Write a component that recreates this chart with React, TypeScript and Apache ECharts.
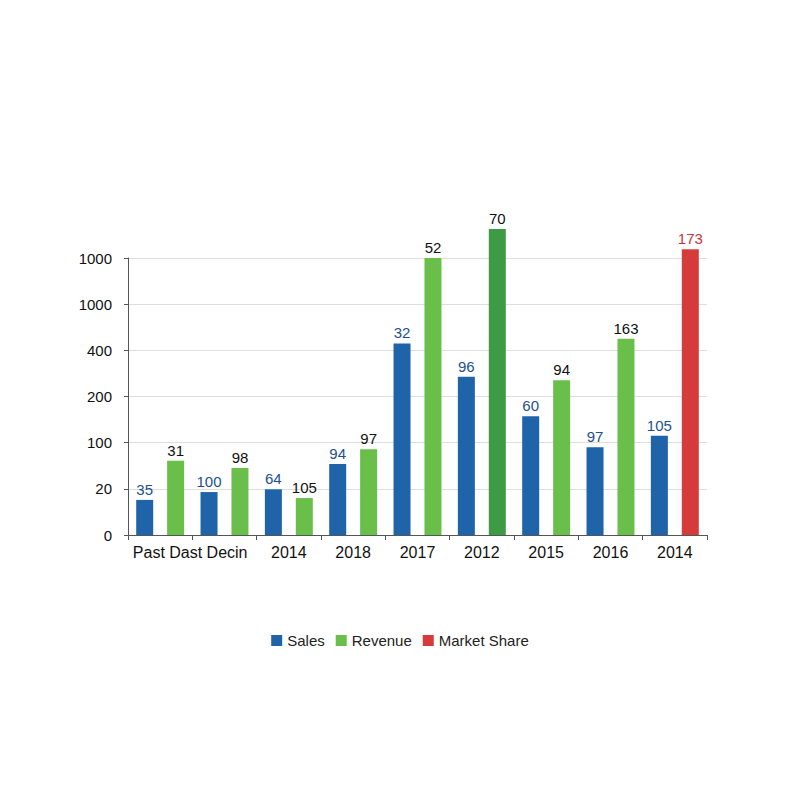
import React, { useEffect, useRef } from "react";
import * as echarts from "echarts";

const categories = ["Past Dast Decin", "", "2014", "2018", "2017", "2012", "2015", "2016", "2014"];
const yTickLabels = ["0", "20", "100", "200", "400", "1000", "1000"];
const salesHeights = [0.76, 0.93, 0.99, 1.54, 4.15, 3.43, 2.57, 1.9, 2.15];
const salesLabels = ["35", "100", "64", "94", "32", "96", "60", "97", "105"];
const revenueHeights = [1.61, 1.45, 0.8, 1.86, 6.0, 6.63, 3.35, 4.25, null];
const revenueLabels = ["31", "98", "105", "97", "52", "70", "94", "163", ""];
const marketHeights = [null, null, null, null, null, null, null, null, 6.19];
const marketLabels = ["", "", "", "", "", "", "", "", "173"];

const BLUE = "#1f63a8";
const GREEN = "#6abf4b";
const DARK_GREEN = "#3d9b45";
const RED = "#d63b3b";

export default function App() {
  const ref = useRef<HTMLDivElement>(null);
  useEffect(() => {
    if (!ref.current) return;
    const chart = echarts.init(ref.current, null, { renderer: "svg" });
    const font = "'Liberation Sans', Arial, Helvetica, sans-serif";
    chart.setOption({
      animation: false,
      textStyle: { fontFamily: font },
      grid: { left: 128, right: 93, top: 258, bottom: 265, containLabel: false },
      legend: {
        bottom: 147,
        left: "center",
        icon: "rect",
        itemWidth: 11,
        itemHeight: 11,
        itemGap: 11,
        textStyle: { fontSize: 15, color: "#222", fontFamily: font },
        data: ["Sales", "Revenue", "Market Share"],
      },
      xAxis: {
        type: "category",
        data: categories.map((c, i) => "c" + i),
        axisLine: { lineStyle: { color: "#555", width: 1 } },
        axisTick: { show: true, length: 5, lineStyle: { color: "#555" } },
        axisLabel: {
          interval: 0,
          margin: 9,
          fontSize: 16,
          color: "#111",
          fontFamily: font,
          formatter: (_v: string, i: number) =>
            i === 0 ? "{first|" + categories[0] + "}" : categories[i],
          rich: {
            first: { padding: [0, 0, 0, 60], fontSize: 16, color: "#111", fontFamily: font },
          },
        },
      },
      yAxis: {
        type: "value",
        min: 0,
        max: 6,
        interval: 1,
        axisLine: { show: true, lineStyle: { color: "#555" } },
        axisTick: { show: true, length: 4, lineStyle: { color: "#555" } },
        splitLine: { lineStyle: { color: "#dedede" } },
        axisLabel: {
          margin: 16,
          fontSize: 15,
          color: "#111",
          fontFamily: font,
          formatter: (v: number) => yTickLabels[Math.round(v)] ?? "",
        },
      },
      series: [
        {
          name: "Sales",
          type: "bar",
          barWidth: 17,
          barGap: "82%",
          clip: false,
          itemStyle: { color: BLUE },
          data: salesHeights,
          label: {
            show: true,
            position: "top",
            distance: 3,
            fontSize: 15,
            color: "#1d4f8f",
            fontFamily: font,
            formatter: (p: any) => salesLabels[p.dataIndex],
          },
        },
        {
          name: "Revenue",
          type: "bar",
          stack: "rev",
          barWidth: 17,
          clip: false,
          itemStyle: { color: GREEN },
          data: revenueHeights.map((v, i) =>
            v === null ? "-" : i === 5 ? { value: v, itemStyle: { color: DARK_GREEN } } : v
          ),
          label: {
            show: true,
            position: "top",
            distance: 3,
            fontSize: 15,
            color: "#111",
            fontFamily: font,
            formatter: (p: any) => revenueLabels[p.dataIndex],
          },
        },
        {
          name: "Market Share",
          type: "bar",
          stack: "rev",
          barWidth: 17,
          clip: false,
          itemStyle: { color: RED },
          data: marketHeights.map((v) => (v === null ? "-" : v)),
          label: {
            show: true,
            position: "top",
            distance: 3,
            fontSize: 15,
            color: "#c8383a",
            fontFamily: font,
            formatter: (p: any) => marketLabels[p.dataIndex],
          },
        },
      ],
    });
    return () => chart.dispose();
  }, []);
  return (
    <div
      ref={ref}
      style={{ position: "absolute", left: 0, top: 0, width: 800, height: 800 }}
    />
  );
}
